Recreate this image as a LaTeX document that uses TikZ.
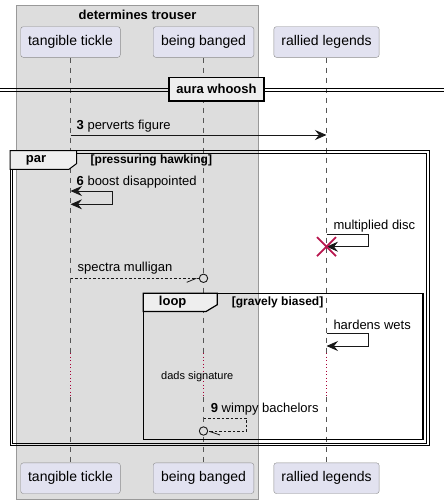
\documentclass[tikz,border=0pt]{standalone}
\usepackage{fontspec}
\setmainfont{Liberation Sans}
\usetikzlibrary{arrows.meta}
\definecolor{partfill}{HTML}{E2E2F0}
\definecolor{partdraw}{HTML}{8C8C8C}
\definecolor{boxfill}{HTML}{DDDDDD}
\definecolor{boxdraw}{HTML}{999999}
\definecolor{tabfill}{HTML}{EEEEEE}
\definecolor{lifec}{HTML}{555555}
\definecolor{delayc}{HTML}{A80036}
\definecolor{xred}{HTML}{B8164E}
\definecolor{msgc}{HTML}{181818}
\begin{document}
\begin{tikzpicture}[x=1pt,y=-1pt,
  part/.style={draw=partdraw, fill=partfill, rounded corners=2.5pt, minimum height=30.6pt, inner sep=0pt, font=\fontsize{14}{16}\selectfont, text=black},
  life/.style={draw=lifec, dash pattern=on 5pt off 5pt, line width=0.5pt},
  delayl/.style={draw=delayc, dash pattern=on 1pt off 2.5pt, line width=0.7pt},
  msg/.style={draw=msgc, line width=0.8pt},
  dmsg/.style={draw=msgc, line width=0.8pt, dash pattern=on 2.5pt off 2pt},
  tip/.style={-{Stealth[length=11.5pt,width=10pt,inset=4pt]}},
  dtip/.style={{Stealth[length=11.5pt,width=10pt,inset=4pt]}-{Stealth[length=11.5pt,width=10pt,inset=4pt]}},
  lbl/.style={font=\fontsize{13}{15}\selectfont, anchor=west, inner sep=0pt, text=black},
  blbl/.style={font=\fontsize{13}{15}\selectfont\bfseries, inner sep=0pt, text=black},
  clbl/.style={font=\fontsize{12}{14}\selectfont\bfseries, anchor=west, inner sep=0pt, text=black},
  tab/.style={fill=tabfill, draw=black, line width=1.2pt},
  frm/.style={draw=black, line width=1.2pt}
]
\useasboundingbox (0,0) rectangle (444,504);
% group box
\draw[fill=boxfill, draw=boxdraw, line width=0.8pt] (16.5,5) rectangle (258.5,499);
\node[blbl] (grp) at (137.5,15) {determines trouser};
% participants
\node[part, minimum width=99.6pt] (tt) at (70.5,42) {tangible tickle};
\node[part, minimum width=100.6pt] (bb) at (203.5,42) {being banged};
\node[part, minimum width=105.3pt] (rl) at (326.5,42) {rallied legends};
\node[part, minimum width=99.6pt] (ttb) at (70.5,478.2) {tangible tickle};
\node[part, minimum width=100.6pt] (bbb) at (203.5,478.2) {being banged};
\node[part, minimum width=105.3pt] (rlb) at (326.5,478.2) {rallied legends};
% delay coordinates
\coordinate (tt1) at (70.5,353); \coordinate (tt2) at (70.5,396.7);
\coordinate (bb1) at (203.5,353); \coordinate (bb2) at (203.5,396.7);
\coordinate (rl1) at (326.5,353); \coordinate (rl2) at (326.5,396.7);
% lifelines
\draw[life] (tt.south) -- (tt1); \draw[delayl] (tt1) -- (tt2); \draw[life] (tt2) -- (ttb.north);
\draw[life] (bb.south) -- (bb1); \draw[delayl] (bb1) -- (bb2); \draw[life] (bb2) -- (bbb.north);
\draw[life] (rl.south) -- (rl1); \draw[delayl] (rl1) -- (rl2); \draw[life] (rl2) -- (rlb.north);
% divider
\draw[line width=0.9pt] (0,88.3) -- (444,88.3);
\draw[line width=0.9pt] (0,91.2) -- (444,91.2);
\node[blbl, draw=black, fill=tabfill, line width=1.5pt, minimum width=95pt, minimum height=23.3pt] (div) at (216.5,89.3) {aura whoosh};
% message 3
\coordinate (m3a) at (70.5,135); \coordinate (m3b) at (326.5,135);
\draw[msg, tip] (m3a) -- (m3b);
\node[lbl] (m3l) at (76.5,126.5) {\textbf{3} perverts figure};
% par frame
\draw[frm, line width=1pt] (10,150.7) rectangle (429,445.7);
\draw[frm, line width=1pt] (12.5,153.2) rectangle (426.5,443.2);
\draw[tab, line width=1pt] (10,150.7) -- (76.7,150.7) -- (76.7,163.5) -- (69,169.3) -- (10,169.3) -- cycle;
\node[blbl] (parl) at (36,160.3) {par};
\node[clbl] (parc) at (90.5,160.3) {[pressuring hawking]};
% self message 6
\coordinate (s6a) at (70.5,191); \coordinate (s6r1) at (112.7,191);
\coordinate (s6r2) at (112.7,204.3); \coordinate (s6b) at (70.5,204.3);
\draw[msg, dtip] (s6a) -- (s6r1) -- (s6r2) -- (s6b);
\node[lbl] (s6l) at (76.5,182) {\textbf{6} boost disappointed};
% multiplied disc
\coordinate (mda) at (326.5,234.3); \coordinate (mdr1) at (368.3,234.3);
\coordinate (mdr2) at (368.3,246.7); \coordinate (mdb) at (326.5,246.7);
\draw[msg, tip] (mda) -- (mdr1) -- (mdr2) -- (mdb);
\node[lbl] (mdl) at (333.3,225.7) {multiplied disc};
\draw[xred, line width=1.8pt] ([shift={(-9.5,-9.5)}]mdb) -- ([shift={(9.5,9.5)}]mdb);
\draw[xred, line width=1.8pt] ([shift={(-9.5,9.5)}]mdb) -- ([shift={(9.5,-9.5)}]mdb);
% spectra mulligan
\coordinate (sma) at (70.5,278.3);
\node[circle, draw=msgc, line width=0.9pt, minimum size=8.4pt, inner sep=0pt, fill=boxfill] (smo) at (203.5,278.3) {};
\draw[dmsg] (sma) -- (smo.west);
\coordinate (smh) at (186.7,282.3);
\draw[msg] (smh) -- ([shift={(-2.5,0)}]smo.west);
\node[lbl] (sml) at (77.5,268.3) {spectra mulligan};
% loop frame
\draw[frm] (143.3,293.3) rectangle (423,439.3);
\draw[tab] (143.3,293.3) -- (217.3,293.3) -- (217.3,304.7) -- (206,311.5) -- (143.3,311.5) -- cycle;
\node[blbl] (loopl) at (172.7,302.5) {loop};
\node[clbl] (loopc) at (231.7,302) {[gravely biased]};
% hardens wets
\coordinate (hwa) at (326.5,333.3); \coordinate (hwr1) at (368.3,333.3);
\coordinate (hwr2) at (368.3,346); \coordinate (hwb) at (326.5,346);
\draw[msg, tip] (hwa) -- (hwr1) -- (hwr2) -- (hwb);
\node[lbl] (hwl) at (333.3,324.7) {hardens wets};
% delay text
\node[font=\fontsize{11}{13}\selectfont, inner sep=0pt] (dly) at (197.3,376.2) {dads signature};
% message 9
\coordinate (w9a) at (203.5,418.3); \coordinate (w9r1) at (246.7,418.3);
\coordinate (w9r2) at (246.7,431);
\node[circle, draw=msgc, line width=0.9pt, minimum size=8.4pt, inner sep=0pt, fill=boxfill] (w9o) at (203.5,431) {};
\draw[dmsg] (w9a) -- (w9r1) -- (w9r2) -- (w9o.east);
\coordinate (w9h) at (220,435);
\draw[msg] ([shift={(1,0.3)}]w9o.east) -- (w9h);
\node[lbl] (w9l) at (210.7,409.3) {\textbf{9} wimpy bachelors};
\end{tikzpicture}
\end{document}
